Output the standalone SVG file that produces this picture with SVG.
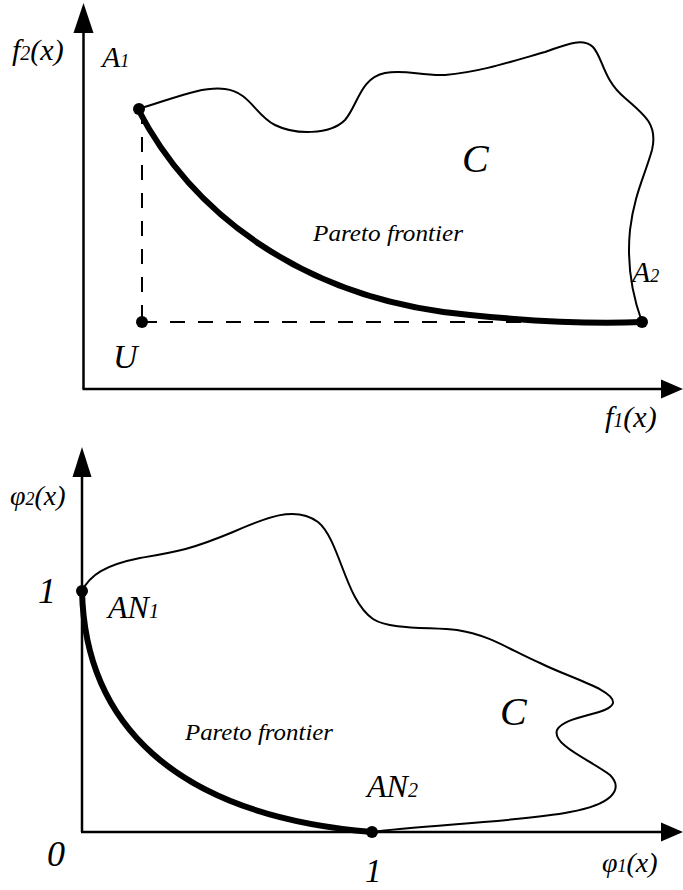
<svg xmlns="http://www.w3.org/2000/svg" width="683" height="890" viewBox="0 0 683 890">
<style>
.ax{stroke:#000;stroke-width:2.5;fill:none}
.bd{stroke:#000;stroke-width:2;fill:none}
.pf{stroke:#000;stroke-width:6;fill:none;stroke-linecap:round}
.ds{stroke:#000;stroke-width:2;fill:none;stroke-dasharray:15 13}
.ah{fill:#000}
.dot{fill:#000}
text{font-family:"Liberation Serif","Times New Roman",serif;font-style:italic;fill:#000}
</style>
<rect width="683" height="890" fill="#fff"/>
<g id="connectors">
  <line class="ax" x1="83.5" y1="30" x2="83.5" y2="389"/>
  <line class="ax" x1="82.5" y1="389" x2="662" y2="389"/>
  <polygon class="ah" points="83.5,3 73.5,33 93.5,33"/>
  <polygon class="ah" points="683,389 661,379.5 661,398.5"/>
  <line class="ds" x1="142" y1="109" x2="142" y2="322"/>
  <line class="ds" x1="142" y1="322" x2="600" y2="322"/>
  <path class="bd" d="M138,109 C170,100 200,86 225,89 C250,92 255,115 275,125 C295,135 330,135 345,120 C358,105 360,78 385,73 C405,69 420,76 445,75 C480,72 510,62 545,52 C565,45 582,37 593,47 C603,58 603,80 625,98 C645,115 658,125 652,150 C645,175 634,195 630,230 C626,270 634,300 642,322"/>
  <path class="pf" d="M138,109 C190,210 300,300 470,315 C540,322 600,324 642,322"/>
  <line class="ax" x1="82" y1="475" x2="82" y2="832"/>
  <line class="ax" x1="81" y1="832" x2="662" y2="832"/>
  <polygon class="ah" points="82,447 72.5,477 91.5,477"/>
  <polygon class="ah" points="683,832 661,822.5 661,841.5"/>
  <path class="bd" d="M82,591 C90,575 105,565 140,558 C175,552 190,550 233,532 C265,518 295,505 318,522 C340,540 345,600 373,619 C390,630 430,627 457,630 C490,635 510,650 540,663 C570,678 615,690 613,703 C610,715 565,715 557,730 C552,745 590,760 610,775 C625,790 610,805 570,812 C520,822 420,825 372,832"/>
  <path class="pf" d="M82,591 C85,720 170,815 372,832"/>
</g>
<g id="A1"><circle class="dot" cx="139" cy="109" r="6"/><text x="102" y="67" font-size="30">A<tspan font-size="18">1</tspan></text></g>
<g id="A2"><circle class="dot" cx="642" cy="322" r="6"/><text x="632" y="282" font-size="30">A<tspan font-size="18">2</tspan></text></g>
<g id="U"><circle class="dot" cx="142" cy="322" r="6"/><text x="113" y="368" font-size="34">U</text></g>
<g id="C1"><text x="462" y="172" font-size="40">C</text></g>
<g id="PF1"><text x="313" y="241" font-size="24" textLength="150" lengthAdjust="spacingAndGlyphs">Pareto frontier</text></g>
<g id="f2"><text x="12" y="60" font-size="30">f<tspan font-size="20">2</tspan>(x)</text></g>
<g id="f1"><text x="605" y="427" font-size="30">f<tspan font-size="20">1</tspan>(x)</text></g>
<g id="AN1"><circle class="dot" cx="82" cy="591" r="6"/><text x="108" y="618" font-size="32">AN<tspan font-size="20">1</tspan></text></g>
<g id="AN2"><circle class="dot" cx="372" cy="832" r="6"/><text x="367" y="797" font-size="32">AN<tspan font-size="20">2</tspan></text></g>
<g id="C2"><text x="500" y="725" font-size="40">C</text></g>
<g id="PF2"><text x="185" y="740" font-size="24" textLength="148" lengthAdjust="spacingAndGlyphs">Pareto frontier</text></g>
<g id="phi2"><text x="10" y="505" font-size="28">φ<tspan font-size="18">2</tspan>(x)</text></g>
<g id="phi1"><text x="602" y="872" font-size="28">φ<tspan font-size="18">1</tspan>(x)</text></g>
<g id="one-y"><text x="38" y="603" font-size="36">1</text></g>
<g id="zero"><text x="47" y="866" font-size="36">0</text></g>
<g id="one-x"><text x="365" y="882" font-size="33">1</text></g>
</svg>
